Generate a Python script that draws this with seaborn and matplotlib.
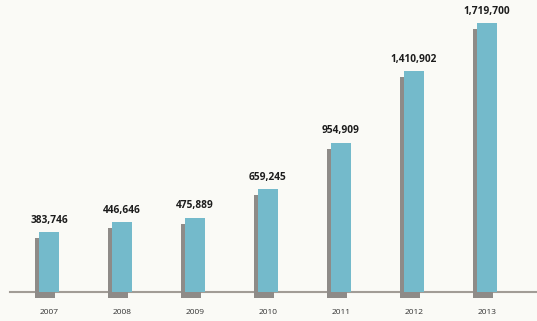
import matplotlib
matplotlib.use("Agg")
import matplotlib.pyplot as plt
import matplotlib.transforms as mtransforms
import pandas as pd
import seaborn as sns

# data
years = ["2007", "2008", "2009", "2010", "2011", "2012", "2013"]
values = [383746, 446646, 475889, 659245, 954909, 1410902, 1719700]

bar_color = "#74bacb"
shadow_color = "#8e8b88"
bg_color = "#fafaf6"

df = pd.DataFrame({"Year": years, "Value": values})

sns.set_theme(style="white")
plt.rcParams["font.family"] = ["Open Sans", "DejaVu Sans"]

fig = plt.figure(figsize=(5.37, 3.21), dpi=100, facecolor=bg_color)
ax = fig.add_axes([10 / 537, 29 / 321, 527 / 537, 292 / 321])
ax.set_facecolor(bg_color)

# shadow bars (shifted left/down with an offset transform)
sns.barplot(data=df, x="Year", y="Value", color=shadow_color, width=0.28,
            saturation=1, linewidth=0, ax=ax)
n_shadow = len(ax.patches)
shift = mtransforms.ScaledTranslation(-4 / 100, -6 / 100, fig.dpi_scale_trans)
for p in ax.patches[:n_shadow]:
    p.set_transform(ax.transData + shift)
    p.set_clip_on(False)
    p.set_zorder(3)

# main bars
sns.barplot(data=df, x="Year", y="Value", color=bar_color, width=0.28,
            saturation=1, linewidth=0, ax=ax)
for p in ax.patches[n_shadow:]:
    p.set_zorder(4)

for i, v in enumerate(values):
    ax.annotate(f"{v:,}", (i, v), xytext=(0, 4.5), textcoords="offset points",
                ha="center", va="bottom", fontsize=7.3, fontweight="bold",
                color="#1c1c1c")

ax.set_xlim(-0.534, 6.685)
ax.set_ylim(0, 1719700 * 292 / 269)
ax.set_xlabel("")
ax.set_ylabel("")
ax.set_yticks([])
ax.tick_params(axis="x", length=0, pad=12, labelsize=6, labelcolor="#333333")
for s in ["top", "right", "left"]:
    ax.spines[s].set_visible(False)
ax.spines["bottom"].set_color("#a19c96")
ax.spines["bottom"].set_linewidth(1.5)
ax.spines["bottom"].set_zorder(2)

fig.savefig("out.png", dpi=100, facecolor=bg_color)
